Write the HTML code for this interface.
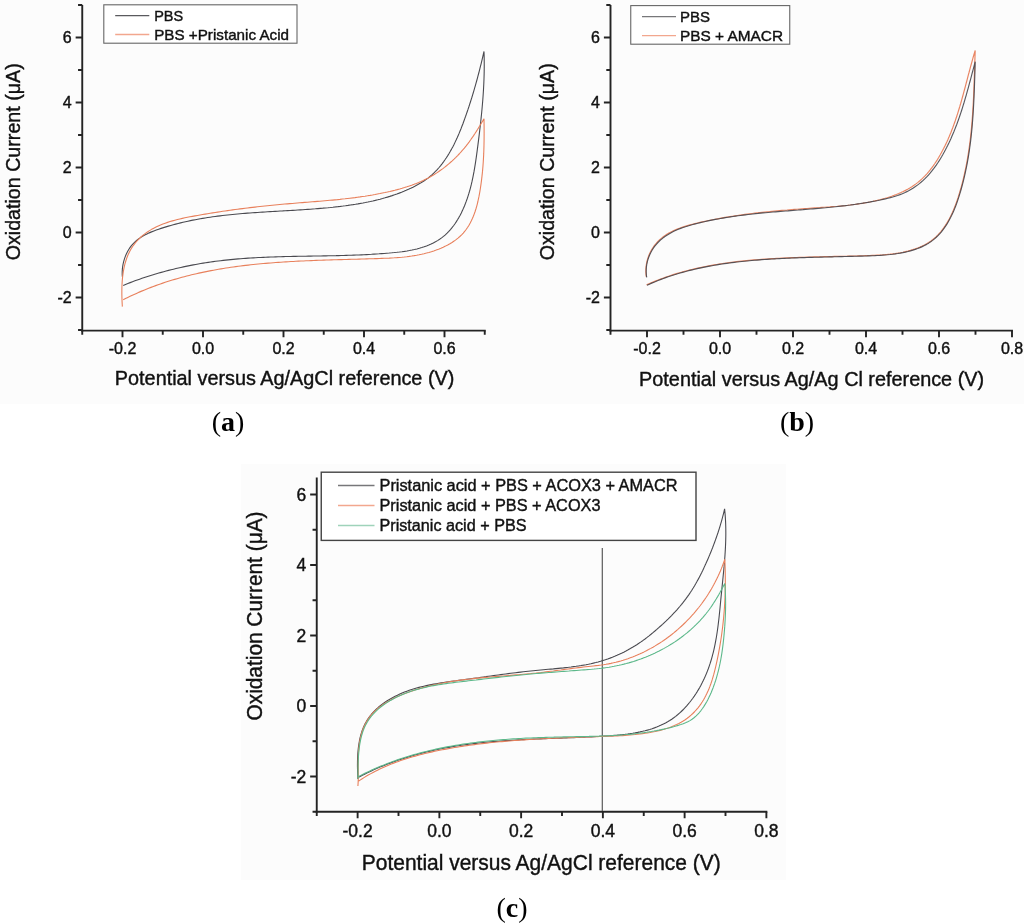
<!DOCTYPE html>
<html><head><meta charset="utf-8"><title>Cyclic voltammograms</title>
<style>
html,body{margin:0;padding:0;background:#fff}
svg{display:block}
svg text{font-family:"Liberation Sans",sans-serif;fill:#111;stroke:#111;stroke-width:0.4px}
svg text.sf{font-family:"Liberation Serif",serif;fill:#000;stroke:none}
</style></head><body>
<svg width="1024" height="923" viewBox="0 0 1024 923">
<rect width="1024" height="923" fill="#fff"/>
<rect width="1024" height="403.8" fill="#fcfcfc"/>
<rect x="241" y="464" width="545" height="416" fill="#fcfcfc"/>
<path d="M82.25,5.00 V331.55 H82.25" fill="none" stroke="#242424" stroke-width="1.90"/>
<path d="M81.30,330.60 H485.70" fill="none" stroke="#242424" stroke-width="1.90"/>
<path d="M122.50,330.60v6.60M203.00,330.60v6.60M283.50,330.60v6.60M364.00,330.60v6.60M444.50,330.60v6.60M82.25,330.60v4.20M162.75,330.60v4.20M243.25,330.60v4.20M323.75,330.60v4.20M404.25,330.60v4.20M484.75,330.60v4.20M82.25,297.50h-6.60M82.25,232.50h-6.60M82.25,167.50h-6.60M82.25,102.50h-6.60M82.25,37.50h-6.60M82.25,330.00h-4.20M82.25,265.00h-4.20M82.25,200.00h-4.20M82.25,135.00h-4.20M82.25,70.00h-4.20M82.25,5.00h-4.20" fill="none" stroke="#242424" stroke-width="1.90"/>
<text x="122.50" y="354.46" font-size="16.00" text-anchor="middle">-0.2</text>
<text x="203.00" y="354.46" font-size="16.00" text-anchor="middle">0.0</text>
<text x="283.50" y="354.46" font-size="16.00" text-anchor="middle">0.2</text>
<text x="364.00" y="354.46" font-size="16.00" text-anchor="middle">0.4</text>
<text x="444.50" y="354.46" font-size="16.00" text-anchor="middle">0.6</text>
<text x="71.75" y="303.23" font-size="16.00" text-anchor="end">-2</text>
<text x="71.75" y="238.23" font-size="16.00" text-anchor="end">0</text>
<text x="71.75" y="173.23" font-size="16.00" text-anchor="end">2</text>
<text x="71.75" y="108.23" font-size="16.00" text-anchor="end">4</text>
<text x="71.75" y="43.23" font-size="16.00" text-anchor="end">6</text>
<path d="M122.35,276.70 C122.35,276.70 122.35,276.70 122.35,276.70 L122.20,274.23 L122.20,271.71 L122.35,269.17 L122.65,266.62 L123.08,264.07 L123.66,261.55 L124.38,259.06 L125.23,256.61 L126.21,254.24 L127.33,251.94 L128.57,249.73 L129.94,247.63 L131.43,245.66 L133.04,243.82 L134.76,242.10 L136.58,240.49 L138.50,238.99 L140.50,237.59 L142.59,236.29 L144.74,235.08 L146.95,233.94 L149.22,232.87 L151.53,231.88 L153.89,230.93 L156.27,230.04 L158.68,229.20 L161.10,228.39 L163.52,227.61 L165.96,226.86 L168.39,226.13 L170.82,225.43 L173.26,224.75 L175.71,224.10 L178.15,223.47 L180.60,222.87 L183.05,222.28 L185.50,221.72 L187.96,221.18 L190.42,220.66 L192.88,220.16 L195.34,219.68 L197.80,219.22 L200.27,218.78 L202.74,218.35 L205.21,217.95 L207.69,217.56 L210.16,217.18 L212.64,216.82 L215.12,216.48 L217.61,216.15 L220.09,215.84 L222.58,215.54 L225.06,215.25 L227.55,214.97 L230.04,214.71 L232.54,214.46 L235.03,214.22 L237.53,213.99 L240.02,213.76 L242.52,213.55 L245.02,213.35 L247.52,213.15 L250.02,212.96 L252.53,212.78 L255.03,212.60 L257.54,212.43 L260.04,212.27 L262.55,212.11 L265.06,211.95 L267.57,211.80 L270.08,211.65 L272.59,211.50 L275.10,211.35 L277.61,211.21 L280.13,211.06 L282.64,210.92 L285.15,210.77 L287.67,210.63 L290.18,210.48 L292.70,210.33 L295.21,210.18 L297.72,210.02 L300.24,209.86 L302.76,209.70 L305.27,209.53 L307.79,209.36 L310.30,209.18 L312.82,208.99 L315.33,208.80 L317.84,208.59 L320.36,208.38 L322.87,208.17 L325.39,207.94 L327.90,207.70 L330.41,207.45 L332.92,207.19 L335.43,206.92 L337.94,206.64 L340.45,206.34 L342.96,206.03 L345.47,205.71 L347.97,205.37 L350.48,205.01 L352.98,204.64 L355.47,204.25 L357.97,203.84 L360.45,203.41 L362.94,202.96 L365.41,202.49 L367.89,202.00 L370.35,201.48 L372.81,200.94 L375.26,200.37 L377.70,199.78 L380.13,199.16 L382.56,198.51 L384.97,197.84 L387.38,197.13 L389.77,196.39 L392.15,195.63 L394.52,194.83 L396.88,193.99 L399.23,193.12 L401.56,192.22 L403.88,191.28 L406.18,190.30 L408.47,189.29 L410.74,188.24 L413.00,187.14 L415.24,186.01 L417.46,184.83 L419.65,183.60 L421.81,182.32 L423.92,180.97 L425.99,179.57 L428.01,178.09 L429.98,176.54 L431.87,174.92 L433.71,173.22 L435.48,171.45 L437.20,169.62 L438.86,167.74 L440.46,165.81 L442.01,163.85 L443.51,161.84 L444.97,159.80 L446.37,157.72 L447.73,155.61 L449.04,153.47 L450.32,151.30 L451.55,149.11 L452.74,146.89 L453.90,144.64 L455.02,142.37 L456.11,140.09 L457.17,137.78 L458.19,135.46 L459.19,133.13 L460.16,130.78 L461.11,128.42 L462.03,126.06 L462.94,123.69 L463.82,121.31 L464.68,118.93 L465.53,116.55 L466.37,114.17 L467.19,111.79 L467.99,109.42 L468.78,107.04 L469.56,104.66 L470.33,102.28 L471.08,99.90 L471.83,97.51 L472.56,95.13 L473.27,92.74 L473.98,90.35 L474.68,87.96 L475.36,85.56 L476.04,83.16 L476.70,80.75 L477.36,78.34 L478.00,75.93 L478.64,73.51 L479.27,71.08 L479.88,68.65 L480.49,66.21 L481.10,63.76 L481.69,61.30 L482.28,58.84 L482.86,56.37 L483.43,53.89 L484.00,51.40 C484.00,51.40 484.00,51.40 484.00,51.40 L484.08,53.96 L484.15,56.51 L484.20,59.06 L484.23,61.60 L484.24,64.14 L484.24,66.67 L484.22,69.20 L484.18,71.72 L484.13,74.24 L484.06,76.76 L483.98,79.27 L483.88,81.78 L483.77,84.28 L483.64,86.79 L483.51,89.29 L483.36,91.78 L483.19,94.28 L483.02,96.77 L482.84,99.26 L482.64,101.75 L482.43,104.24 L482.21,106.73 L481.99,109.22 L481.75,111.71 L481.51,114.19 L481.25,116.68 L480.99,119.17 L480.72,121.65 L480.45,124.14 L480.16,126.63 L479.87,129.12 L479.58,131.61 L479.28,134.11 L478.97,136.60 L478.66,139.10 L478.35,141.60 L478.03,144.10 L477.71,146.61 L477.38,149.11 L477.05,151.62 L476.72,154.14 L476.37,156.65 L476.01,159.16 L475.64,161.67 L475.26,164.18 L474.85,166.69 L474.43,169.20 L473.99,171.70 L473.52,174.20 L473.03,176.69 L472.52,179.18 L471.97,181.66 L471.39,184.13 L470.78,186.60 L470.13,189.05 L469.45,191.50 L468.73,193.93 L467.96,196.36 L467.16,198.77 L466.31,201.17 L465.41,203.56 L464.46,205.93 L463.46,208.28 L462.42,210.60 L461.31,212.89 L460.16,215.15 L458.95,217.36 L457.68,219.54 L456.36,221.66 L454.97,223.73 L453.53,225.75 L452.02,227.70 L450.45,229.59 L448.81,231.41 L447.11,233.15 L445.34,234.82 L443.50,236.40 L441.59,237.89 L439.61,239.29 L437.56,240.61 L435.46,241.84 L433.29,242.99 L431.08,244.05 L428.81,245.05 L426.50,245.96 L424.16,246.81 L421.77,247.59 L419.36,248.30 L416.92,248.94 L414.46,249.53 L411.98,250.06 L409.48,250.53 L406.98,250.96 L404.46,251.34 L401.93,251.69 L399.40,252.00 L396.86,252.28 L394.32,252.54 L391.77,252.79 L389.23,253.02 L386.69,253.23 L384.15,253.44 L381.61,253.63 L379.07,253.82 L376.53,253.99 L373.99,254.15 L371.46,254.31 L368.92,254.45 L366.39,254.58 L363.86,254.71 L361.32,254.83 L358.79,254.94 L356.26,255.04 L353.73,255.14 L351.20,255.23 L348.68,255.31 L346.15,255.39 L343.62,255.47 L341.10,255.53 L338.57,255.60 L336.05,255.66 L333.53,255.71 L331.00,255.76 L328.48,255.81 L325.96,255.86 L323.44,255.90 L320.92,255.95 L318.41,255.99 L315.89,256.03 L313.37,256.07 L310.86,256.11 L308.34,256.15 L305.83,256.19 L303.31,256.23 L300.80,256.27 L298.28,256.31 L295.77,256.36 L293.26,256.41 L290.75,256.46 L288.24,256.51 L285.73,256.57 L283.22,256.64 L280.71,256.70 L278.21,256.77 L275.70,256.85 L273.19,256.93 L270.69,257.02 L268.18,257.12 L265.67,257.22 L263.17,257.33 L260.67,257.45 L258.16,257.57 L255.66,257.71 L253.16,257.85 L250.66,258.00 L248.15,258.16 L245.65,258.33 L243.15,258.52 L240.65,258.71 L238.15,258.91 L235.65,259.13 L233.15,259.35 L230.65,259.59 L228.16,259.85 L225.66,260.11 L223.16,260.39 L220.66,260.68 L218.17,260.99 L215.67,261.31 L213.17,261.65 L210.68,262.00 L208.18,262.37 L205.69,262.75 L203.20,263.15 L200.71,263.57 L198.22,263.99 L195.73,264.44 L193.24,264.90 L190.76,265.38 L188.28,265.87 L185.80,266.38 L183.33,266.90 L180.86,267.44 L178.39,268.00 L175.93,268.57 L173.47,269.16 L171.01,269.77 L168.56,270.39 L166.12,271.03 L163.68,271.68 L161.24,272.35 L158.81,273.04 L156.39,273.74 L153.97,274.47 L151.56,275.20 L149.16,275.96 L146.76,276.73 L144.37,277.52 L141.98,278.33 L139.61,279.15 L137.24,279.99 L134.88,280.85 L132.52,281.72 L130.18,282.62 L127.84,283.53 L125.52,284.45 L123.20,285.40" fill="none" stroke="#4a4a50" stroke-width="1.10" stroke-linejoin="bevel" opacity="1"/>
<path d="M122.35,306.60 C122.35,306.60 122.35,306.60 122.35,306.60 L122.21,304.27 L122.09,301.89 L121.99,299.46 L121.91,297.00 L121.86,294.49 L121.85,291.96 L121.87,289.40 L121.93,286.82 L122.04,284.23 L122.19,281.63 L122.40,279.03 L122.67,276.43 L123.00,273.84 L123.39,271.27 L123.86,268.72 L124.39,266.19 L125.01,263.70 L125.71,261.24 L126.49,258.83 L127.37,256.46 L128.34,254.15 L129.41,251.90 L130.58,249.71 L131.86,247.60 L133.25,245.56 L134.73,243.59 L136.31,241.70 L137.98,239.88 L139.73,238.15 L141.55,236.48 L143.45,234.90 L145.41,233.39 L147.43,231.97 L149.51,230.62 L151.63,229.35 L153.79,228.15 L156.00,227.03 L158.25,225.97 L160.54,224.98 L162.86,224.05 L165.22,223.18 L167.60,222.36 L170.01,221.59 L172.44,220.87 L174.90,220.19 L177.37,219.55 L179.86,218.94 L182.37,218.37 L184.88,217.83 L187.41,217.31 L189.94,216.82 L192.47,216.34 L195.00,215.87 L197.53,215.42 L200.06,214.98 L202.58,214.54 L205.10,214.11 L207.62,213.69 L210.13,213.28 L212.64,212.88 L215.15,212.48 L217.65,212.09 L220.15,211.71 L222.65,211.33 L225.14,210.96 L227.63,210.60 L230.12,210.25 L232.61,209.90 L235.10,209.56 L237.59,209.23 L240.07,208.90 L242.55,208.58 L245.04,208.27 L247.52,207.96 L250.00,207.66 L252.48,207.37 L254.96,207.08 L257.44,206.80 L259.92,206.52 L262.40,206.25 L264.88,205.99 L267.37,205.73 L269.85,205.48 L272.33,205.23 L274.82,204.99 L277.31,204.75 L279.80,204.52 L282.29,204.29 L284.78,204.07 L287.27,203.85 L289.77,203.64 L292.27,203.43 L294.77,203.23 L297.27,203.02 L299.77,202.82 L302.28,202.62 L304.79,202.42 L307.29,202.22 L309.80,202.02 L312.31,201.82 L314.82,201.62 L317.33,201.41 L319.84,201.20 L322.35,200.99 L324.87,200.77 L327.38,200.55 L329.89,200.32 L332.40,200.09 L334.91,199.85 L337.43,199.60 L339.94,199.34 L342.45,199.07 L344.96,198.80 L347.46,198.51 L349.97,198.21 L352.48,197.91 L354.98,197.59 L357.49,197.25 L359.99,196.91 L362.49,196.54 L364.99,196.17 L367.49,195.78 L369.98,195.37 L372.47,194.95 L374.96,194.51 L377.45,194.05 L379.94,193.58 L382.42,193.08 L384.90,192.57 L387.37,192.03 L389.85,191.47 L392.31,190.89 L394.77,190.28 L397.22,189.65 L399.66,188.99 L402.09,188.29 L404.51,187.57 L406.91,186.81 L409.30,186.01 L411.67,185.18 L414.03,184.31 L416.37,183.39 L418.68,182.44 L420.98,181.44 L423.25,180.40 L425.50,179.31 L427.73,178.17 L429.92,176.98 L432.10,175.74 L434.24,174.46 L436.36,173.12 L438.44,171.74 L440.50,170.31 L442.53,168.84 L444.53,167.33 L446.50,165.77 L448.44,164.17 L450.34,162.53 L452.21,160.85 L454.05,159.13 L455.86,157.37 L457.63,155.58 L459.37,153.75 L461.07,151.88 L462.74,149.98 L464.37,148.05 L465.96,146.08 L467.52,144.09 L469.04,142.06 L470.53,140.01 L471.98,137.94 L473.41,135.84 L474.81,133.73 L476.19,131.61 L477.54,129.47 L478.87,127.32 L480.17,125.17 L481.47,123.01 L482.74,120.86 L484.00,118.70 C484.00,118.70 484.00,118.70 484.00,118.70 L484.04,121.30 L484.07,123.88 L484.10,126.44 L484.11,128.99 L484.12,131.53 L484.12,134.05 L484.11,136.56 L484.09,139.06 L484.06,141.55 L484.01,144.03 L483.95,146.50 L483.88,148.97 L483.80,151.44 L483.70,153.90 L483.58,156.36 L483.45,158.82 L483.30,161.28 L483.13,163.74 L482.95,166.21 L482.74,168.68 L482.52,171.15 L482.27,173.63 L482.00,176.12 L481.71,178.62 L481.40,181.13 L481.07,183.65 L480.71,186.18 L480.32,188.73 L479.91,191.29 L479.46,193.85 L478.98,196.41 L478.45,198.96 L477.89,201.50 L477.28,204.03 L476.61,206.53 L475.89,209.01 L475.11,211.46 L474.27,213.87 L473.36,216.24 L472.39,218.56 L471.34,220.83 L470.21,223.04 L469.00,225.19 L467.70,227.27 L466.31,229.28 L464.84,231.21 L463.26,233.05 L461.59,234.82 L459.84,236.50 L457.99,238.10 L456.07,239.62 L454.08,241.07 L452.02,242.44 L449.90,243.74 L447.72,244.97 L445.49,246.12 L443.21,247.21 L440.90,248.23 L438.54,249.19 L436.16,250.09 L433.76,250.93 L431.34,251.70 L428.90,252.42 L426.46,253.09 L424.01,253.70 L421.56,254.26 L419.10,254.77 L416.64,255.24 L414.17,255.66 L411.70,256.04 L409.22,256.39 L406.74,256.70 L404.26,256.98 L401.78,257.22 L399.29,257.44 L396.79,257.64 L394.30,257.81 L391.80,257.96 L389.30,258.09 L386.79,258.21 L384.29,258.32 L381.78,258.41 L379.27,258.50 L376.75,258.59 L374.24,258.67 L371.73,258.74 L369.21,258.82 L366.69,258.90 L364.17,258.97 L361.65,259.04 L359.13,259.11 L356.61,259.18 L354.09,259.25 L351.56,259.32 L349.04,259.39 L346.51,259.46 L343.99,259.53 L341.46,259.60 L338.93,259.67 L336.40,259.75 L333.88,259.82 L331.35,259.90 L328.82,259.98 L326.29,260.06 L323.76,260.14 L321.23,260.23 L318.70,260.32 L316.18,260.41 L313.65,260.51 L311.12,260.61 L308.59,260.71 L306.06,260.82 L303.54,260.93 L301.01,261.05 L298.49,261.17 L295.96,261.30 L293.44,261.43 L290.92,261.57 L288.39,261.72 L285.87,261.87 L283.35,262.03 L280.83,262.20 L278.32,262.37 L275.80,262.55 L273.29,262.74 L270.77,262.93 L268.26,263.13 L265.75,263.35 L263.24,263.57 L260.74,263.79 L258.23,264.03 L255.73,264.28 L253.23,264.54 L250.73,264.81 L248.23,265.08 L245.74,265.37 L243.25,265.67 L240.76,265.98 L238.27,266.30 L235.79,266.63 L233.30,266.97 L230.83,267.33 L228.35,267.69 L225.87,268.07 L223.40,268.47 L220.94,268.87 L218.47,269.29 L216.01,269.72 L213.55,270.17 L211.09,270.63 L208.64,271.10 L206.19,271.59 L203.75,272.09 L201.31,272.61 L198.87,273.14 L196.43,273.69 L194.00,274.25 L191.58,274.83 L189.15,275.43 L186.74,276.04 L184.32,276.67 L181.91,277.31 L179.50,277.98 L177.10,278.66 L174.70,279.36 L172.31,280.07 L169.92,280.81 L167.54,281.56 L165.16,282.33 L162.78,283.12 L160.41,283.93 L158.05,284.76 L155.69,285.61 L153.33,286.48 L150.98,287.37 L148.63,288.27 L146.29,289.20 L143.96,290.16 L141.63,291.13 L139.31,292.12 L136.99,293.14 L134.68,294.17 L132.37,295.23 L130.07,296.32 L127.77,297.42 L125.48,298.55 L123.20,299.70" fill="none" stroke="#e8805c" stroke-width="1.10" stroke-linejoin="bevel" opacity="1"/>
<rect x="103.80" y="4.80" width="193.20" height="38.40" fill="#fff" stroke="#666" stroke-width="1.10"/>
<path d="M115.20,15.60H149.30" stroke="#5a5a5e" stroke-width="1.3"/>
<text x="154.20" y="20.90" font-size="15.00" textLength="29.00" lengthAdjust="spacingAndGlyphs">PBS</text>
<path d="M115.20,34.50H149.30" stroke="#f2a78e" stroke-width="1.3"/>
<text x="154.20" y="39.80" font-size="15.00" textLength="134.80" lengthAdjust="spacingAndGlyphs">PBS +Pristanic Acid</text>
<text x="284.6" y="385" font-size="19.7" text-anchor="middle" textLength="339.5" lengthAdjust="spacingAndGlyphs">Potential versus Ag/AgCl reference (V)</text>
<text transform="translate(19.5,161.8) rotate(-90)" font-size="19.7" text-anchor="middle" textLength="197" lengthAdjust="spacingAndGlyphs">Oxidation Current (μA)</text>
<text x="228" y="430.9" font-size="28" text-anchor="middle" class="sf">(<tspan font-weight="bold">a</tspan>)</text>
<path d="M610.50,5.00 V331.55 H610.50" fill="none" stroke="#242424" stroke-width="1.90"/>
<path d="M609.55,330.60 H1012.95" fill="none" stroke="#242424" stroke-width="1.90"/>
<path d="M647.00,330.60v6.60M720.00,330.60v6.60M793.00,330.60v6.60M866.00,330.60v6.60M939.00,330.60v6.60M1012.00,330.60v6.60M610.50,330.60v4.20M683.50,330.60v4.20M756.50,330.60v4.20M829.50,330.60v4.20M902.50,330.60v4.20M975.50,330.60v4.20M610.50,297.50h-6.60M610.50,232.50h-6.60M610.50,167.50h-6.60M610.50,102.50h-6.60M610.50,37.50h-6.60M610.50,330.00h-4.20M610.50,265.00h-4.20M610.50,200.00h-4.20M610.50,135.00h-4.20M610.50,70.00h-4.20M610.50,5.00h-4.20" fill="none" stroke="#242424" stroke-width="1.90"/>
<text x="647.00" y="354.46" font-size="16.00" text-anchor="middle">-0.2</text>
<text x="720.00" y="354.46" font-size="16.00" text-anchor="middle">0.0</text>
<text x="793.00" y="354.46" font-size="16.00" text-anchor="middle">0.2</text>
<text x="866.00" y="354.46" font-size="16.00" text-anchor="middle">0.4</text>
<text x="939.00" y="354.46" font-size="16.00" text-anchor="middle">0.6</text>
<text x="1012.00" y="354.46" font-size="16.00" text-anchor="middle">0.8</text>
<text x="600.00" y="303.23" font-size="16.00" text-anchor="end">-2</text>
<text x="600.00" y="238.23" font-size="16.00" text-anchor="end">0</text>
<text x="600.00" y="173.23" font-size="16.00" text-anchor="end">2</text>
<text x="600.00" y="108.23" font-size="16.00" text-anchor="end">4</text>
<text x="600.00" y="43.23" font-size="16.00" text-anchor="end">6</text>
<path d="M646.35,276.95 C646.35,276.95 646.35,276.95 646.35,276.95 L646.02,274.34 L645.86,271.73 L645.89,269.14 L646.08,266.57 L646.43,264.03 L646.94,261.53 L647.60,259.08 L648.40,256.67 L649.34,254.33 L650.41,252.05 L651.60,249.85 L652.90,247.73 L654.32,245.71 L655.84,243.78 L657.46,241.95 L659.17,240.23 L660.96,238.62 L662.84,237.10 L664.79,235.68 L666.82,234.35 L668.91,233.11 L671.07,231.94 L673.28,230.85 L675.54,229.83 L677.85,228.87 L680.20,227.97 L682.59,227.13 L685.01,226.35 L687.46,225.60 L689.94,224.90 L692.43,224.24 L694.93,223.61 L697.44,223.00 L699.96,222.42 L702.47,221.86 L704.98,221.31 L707.49,220.77 L710.00,220.26 L712.50,219.76 L715.00,219.27 L717.50,218.80 L720.00,218.34 L722.49,217.89 L724.98,217.46 L727.47,217.04 L729.96,216.64 L732.45,216.24 L734.94,215.86 L737.42,215.49 L739.91,215.13 L742.39,214.79 L744.87,214.45 L747.36,214.12 L749.84,213.81 L752.32,213.50 L754.80,213.20 L757.28,212.92 L759.76,212.64 L762.24,212.36 L764.72,212.10 L767.20,211.84 L769.68,211.60 L772.16,211.35 L774.64,211.12 L777.12,210.89 L779.61,210.67 L782.09,210.45 L784.57,210.23 L787.06,210.03 L789.55,209.82 L792.04,209.62 L794.53,209.43 L797.02,209.24 L799.52,209.05 L802.01,208.86 L804.51,208.68 L807.01,208.50 L809.51,208.32 L812.02,208.14 L814.53,207.96 L817.04,207.78 L819.55,207.61 L822.07,207.43 L824.58,207.25 L827.10,207.07 L829.62,206.88 L832.14,206.68 L834.67,206.48 L837.19,206.27 L839.71,206.04 L842.23,205.80 L844.74,205.55 L847.26,205.29 L849.78,205.01 L852.29,204.71 L854.79,204.38 L857.30,204.04 L859.80,203.68 L862.29,203.29 L864.79,202.88 L867.27,202.44 L869.75,201.97 L872.22,201.47 L874.69,200.94 L877.15,200.38 L879.60,199.78 L882.05,199.15 L884.48,198.48 L886.90,197.77 L889.30,197.02 L891.69,196.22 L894.05,195.38 L896.40,194.48 L898.71,193.54 L901.00,192.54 L903.25,191.49 L905.47,190.38 L907.65,189.21 L909.80,187.98 L911.90,186.68 L913.95,185.31 L915.96,183.88 L917.92,182.37 L919.83,180.79 L921.68,179.14 L923.48,177.42 L925.23,175.63 L926.92,173.78 L928.57,171.87 L930.17,169.91 L931.72,167.91 L933.23,165.85 L934.69,163.76 L936.10,161.63 L937.48,159.46 L938.81,157.27 L940.10,155.05 L941.35,152.81 L942.56,150.56 L943.73,148.29 L944.87,146.02 L945.97,143.73 L947.04,141.44 L948.08,139.13 L949.09,136.82 L950.06,134.50 L951.01,132.17 L951.93,129.84 L952.82,127.50 L953.69,125.15 L954.54,122.79 L955.36,120.43 L956.16,118.06 L956.94,115.69 L957.71,113.31 L958.45,110.92 L959.18,108.53 L959.90,106.14 L960.60,103.74 L961.29,101.33 L961.97,98.93 L962.64,96.52 L963.30,94.10 L963.95,91.68 L964.60,89.26 L965.24,86.84 L965.88,84.42 L966.52,81.99 L967.16,79.56 L967.80,77.13 L968.43,74.70 L969.08,72.27 L969.72,69.84 L970.37,67.41 L971.03,64.98 L971.70,62.54 L972.38,60.11 L973.06,57.68 L973.76,55.25 L974.47,52.83 L975.20,50.40 C975.20,50.40 975.20,50.40 975.20,50.40 L975.11,52.96 L975.02,55.51 L974.94,58.06 L974.86,60.60 L974.78,63.14 L974.70,65.68 L974.62,68.22 L974.54,70.75 L974.46,73.28 L974.38,75.80 L974.29,78.33 L974.21,80.85 L974.12,83.36 L974.03,85.88 L973.93,88.39 L973.83,90.90 L973.73,93.41 L973.62,95.91 L973.51,98.42 L973.38,100.92 L973.26,103.42 L973.12,105.92 L972.97,108.41 L972.82,110.90 L972.66,113.40 L972.49,115.89 L972.31,118.37 L972.12,120.86 L971.91,123.35 L971.70,125.83 L971.47,128.32 L971.23,130.80 L970.98,133.28 L970.71,135.76 L970.43,138.24 L970.14,140.72 L969.83,143.20 L969.50,145.67 L969.16,148.15 L968.80,150.63 L968.42,153.10 L968.03,155.58 L967.61,158.06 L967.18,160.53 L966.73,163.01 L966.26,165.48 L965.76,167.96 L965.25,170.44 L964.71,172.91 L964.16,175.39 L963.58,177.87 L962.97,180.35 L962.35,182.83 L961.70,185.31 L961.02,187.79 L960.32,190.27 L959.59,192.75 L958.84,195.23 L958.05,197.70 L957.23,200.16 L956.38,202.60 L955.49,205.03 L954.56,207.43 L953.59,209.81 L952.57,212.15 L951.51,214.47 L950.40,216.74 L949.25,218.98 L948.04,221.16 L946.77,223.31 L945.45,225.39 L944.07,227.42 L942.64,229.39 L941.13,231.30 L939.57,233.14 L937.93,234.91 L936.23,236.60 L934.45,238.21 L932.60,239.74 L930.68,241.19 L928.67,242.54 L926.60,243.81 L924.45,244.99 L922.24,246.08 L919.97,247.10 L917.65,248.03 L915.27,248.90 L912.86,249.69 L910.41,250.42 L907.92,251.08 L905.41,251.69 L902.88,252.23 L900.33,252.72 L897.77,253.15 L895.21,253.54 L892.64,253.88 L890.08,254.18 L887.52,254.44 L884.97,254.67 L882.42,254.86 L879.87,255.03 L877.33,255.17 L874.79,255.30 L872.26,255.40 L869.72,255.50 L867.19,255.59 L864.66,255.68 L862.13,255.76 L859.60,255.83 L857.08,255.91 L854.55,255.98 L852.03,256.05 L849.50,256.11 L846.98,256.18 L844.46,256.24 L841.95,256.30 L839.43,256.36 L836.91,256.42 L834.40,256.47 L831.88,256.53 L829.37,256.59 L826.86,256.65 L824.34,256.71 L821.83,256.77 L819.32,256.83 L816.81,256.89 L814.31,256.96 L811.80,257.03 L809.29,257.10 L806.78,257.17 L804.27,257.25 L801.77,257.33 L799.26,257.41 L796.76,257.50 L794.25,257.59 L791.74,257.69 L789.24,257.79 L786.73,257.90 L784.23,258.02 L781.72,258.14 L779.22,258.26 L776.71,258.40 L774.20,258.54 L771.70,258.69 L769.19,258.84 L766.68,259.01 L764.18,259.18 L761.67,259.36 L759.16,259.55 L756.65,259.75 L754.14,259.96 L751.63,260.18 L749.12,260.41 L746.61,260.65 L744.10,260.90 L741.59,261.16 L739.08,261.44 L736.57,261.72 L734.07,262.02 L731.56,262.34 L729.06,262.66 L726.55,263.01 L724.05,263.36 L721.56,263.73 L719.06,264.12 L716.57,264.52 L714.08,264.94 L711.59,265.37 L709.11,265.83 L706.63,266.30 L704.16,266.78 L701.69,267.29 L699.22,267.81 L696.76,268.36 L694.31,268.92 L691.86,269.50 L689.41,270.10 L686.97,270.73 L684.54,271.37 L682.11,272.04 L679.69,272.73 L677.27,273.44 L674.87,274.17 L672.47,274.93 L670.07,275.71 L667.69,276.51 L665.31,277.34 L662.94,278.19 L660.58,279.07 L658.23,279.98 L655.88,280.91 L653.55,281.87 L651.22,282.85 L648.91,283.86 L646.60,284.90" fill="none" stroke="#e8805c" stroke-width="1.20" stroke-linejoin="bevel" opacity="0.95"/>
<path d="M646.70,277.40 C646.70,277.40 646.70,277.40 646.70,277.40 L646.35,274.71 L646.20,272.04 L646.22,269.41 L646.41,266.83 L646.78,264.28 L647.30,261.79 L647.97,259.35 L648.79,256.97 L649.74,254.66 L650.82,252.42 L652.03,250.26 L653.36,248.18 L654.79,246.19 L656.32,244.29 L657.95,242.49 L659.66,240.79 L661.46,239.18 L663.34,237.67 L665.29,236.25 L667.32,234.91 L669.40,233.65 L671.55,232.46 L673.75,231.35 L676.01,230.30 L678.31,229.31 L680.65,228.39 L683.03,227.52 L685.45,226.70 L687.89,225.93 L690.35,225.20 L692.83,224.50 L695.33,223.84 L697.84,223.21 L700.35,222.61 L702.86,222.03 L705.37,221.47 L707.89,220.93 L710.40,220.41 L712.91,219.90 L715.42,219.42 L717.93,218.95 L720.44,218.50 L722.94,218.07 L725.45,217.65 L727.96,217.25 L730.47,216.86 L732.98,216.49 L735.48,216.13 L737.99,215.79 L740.49,215.46 L743.00,215.14 L745.51,214.83 L748.01,214.53 L750.51,214.24 L753.02,213.96 L755.52,213.69 L758.03,213.44 L760.53,213.18 L763.03,212.94 L765.53,212.70 L768.04,212.47 L770.54,212.25 L773.04,212.03 L775.54,211.82 L778.04,211.61 L780.54,211.40 L783.04,211.20 L785.54,211.00 L788.04,210.81 L790.54,210.61 L793.04,210.42 L795.54,210.22 L798.04,210.03 L800.54,209.83 L803.03,209.64 L805.53,209.44 L808.03,209.24 L810.53,209.04 L813.03,208.83 L815.52,208.62 L818.02,208.41 L820.52,208.19 L823.01,207.96 L825.51,207.73 L828.01,207.49 L830.50,207.25 L833.00,206.99 L835.49,206.73 L837.99,206.46 L840.49,206.18 L842.98,205.89 L845.48,205.59 L847.97,205.28 L850.47,204.95 L852.96,204.62 L855.46,204.27 L857.95,203.90 L860.45,203.53 L862.94,203.14 L865.44,202.73 L867.93,202.31 L870.43,201.87 L872.92,201.42 L875.41,200.95 L877.91,200.46 L880.40,199.95 L882.90,199.42 L885.39,198.87 L887.86,198.28 L890.33,197.65 L892.78,196.98 L895.20,196.26 L897.60,195.47 L899.97,194.63 L902.30,193.71 L904.59,192.71 L906.84,191.64 L909.05,190.49 L911.21,189.26 L913.32,187.96 L915.39,186.58 L917.41,185.13 L919.38,183.62 L921.30,182.03 L923.16,180.38 L924.97,178.66 L926.72,176.88 L928.43,175.04 L930.09,173.15 L931.70,171.21 L933.26,169.22 L934.78,167.19 L936.25,165.12 L937.68,163.01 L939.07,160.87 L940.42,158.70 L941.73,156.50 L943.01,154.28 L944.25,152.05 L945.45,149.80 L946.62,147.54 L947.76,145.27 L948.87,142.98 L949.94,140.69 L950.99,138.40 L952.01,136.09 L953.00,133.77 L953.97,131.45 L954.91,129.12 L955.83,126.78 L956.73,124.43 L957.60,122.08 L958.45,119.71 L959.28,117.35 L960.09,114.97 L960.89,112.59 L961.67,110.21 L962.43,107.82 L963.17,105.42 L963.91,103.02 L964.63,100.62 L965.33,98.21 L966.03,95.79 L966.72,93.37 L967.39,90.95 L968.06,88.53 L968.73,86.10 L969.38,83.67 L970.04,81.23 L970.69,78.80 L971.33,76.36 L971.97,73.92 L972.62,71.48 L973.26,69.03 L973.90,66.59 L974.55,64.15 L975.20,61.70 C975.20,61.70 975.20,61.70 975.20,61.70 L975.12,64.25 L975.05,66.80 L974.97,69.35 L974.90,71.89 L974.82,74.42 L974.75,76.95 L974.67,79.48 L974.58,82.01 L974.50,84.53 L974.41,87.05 L974.32,89.56 L974.22,92.07 L974.12,94.58 L974.01,97.09 L973.89,99.59 L973.77,102.09 L973.64,104.59 L973.51,107.08 L973.36,109.58 L973.21,112.07 L973.05,114.55 L972.88,117.04 L972.69,119.52 L972.50,122.01 L972.30,124.49 L972.08,126.96 L971.85,129.44 L971.61,131.92 L971.35,134.39 L971.08,136.87 L970.80,139.34 L970.50,141.81 L970.19,144.28 L969.86,146.75 L969.51,149.22 L969.15,151.69 L968.77,154.16 L968.37,156.63 L967.95,159.09 L967.51,161.56 L967.05,164.03 L966.58,166.50 L966.08,168.97 L965.56,171.44 L965.02,173.91 L964.46,176.38 L963.87,178.85 L963.26,181.32 L962.63,183.79 L961.97,186.27 L961.29,188.74 L960.58,191.22 L959.85,193.69 L959.08,196.16 L958.29,198.63 L957.46,201.08 L956.60,203.51 L955.70,205.93 L954.76,208.32 L953.78,210.69 L952.75,213.03 L951.68,215.33 L950.56,217.59 L949.40,219.81 L948.17,221.99 L946.90,224.11 L945.57,226.18 L944.18,228.20 L942.72,230.15 L941.21,232.04 L939.63,233.86 L937.98,235.61 L936.27,237.28 L934.48,238.88 L932.62,240.39 L930.68,241.81 L928.67,243.14 L926.58,244.38 L924.43,245.54 L922.21,246.61 L919.94,247.61 L917.61,248.53 L915.23,249.38 L912.82,250.15 L910.37,250.87 L907.88,251.51 L905.38,252.10 L902.85,252.63 L900.30,253.11 L897.74,253.53 L895.18,253.91 L892.62,254.24 L890.07,254.53 L887.51,254.78 L884.96,255.00 L882.42,255.19 L879.88,255.35 L877.34,255.49 L874.80,255.62 L872.27,255.72 L869.73,255.82 L867.20,255.91 L864.67,255.99 L862.15,256.07 L859.62,256.15 L857.10,256.22 L854.58,256.29 L852.06,256.36 L849.54,256.43 L847.02,256.49 L844.51,256.55 L842.00,256.61 L839.48,256.67 L836.97,256.73 L834.46,256.79 L831.95,256.84 L829.44,256.90 L826.94,256.96 L824.43,257.02 L821.92,257.08 L819.42,257.14 L816.91,257.20 L814.41,257.27 L811.91,257.34 L809.41,257.41 L806.91,257.48 L804.40,257.56 L801.90,257.64 L799.40,257.72 L796.90,257.81 L794.40,257.90 L791.90,258.00 L789.40,258.10 L786.90,258.21 L784.40,258.33 L781.90,258.45 L779.40,258.58 L776.90,258.71 L774.40,258.85 L771.90,259.00 L769.40,259.16 L766.90,259.32 L764.40,259.49 L761.90,259.67 L759.39,259.86 L756.89,260.06 L754.39,260.27 L751.88,260.49 L749.38,260.72 L746.87,260.96 L744.36,261.21 L741.86,261.48 L739.36,261.75 L736.85,262.04 L734.35,262.34 L731.85,262.66 L729.35,262.98 L726.85,263.33 L724.36,263.68 L721.86,264.05 L719.37,264.44 L716.88,264.84 L714.40,265.26 L711.92,265.70 L709.44,266.15 L706.97,266.62 L704.50,267.11 L702.03,267.61 L699.57,268.13 L697.11,268.68 L694.66,269.24 L692.21,269.82 L689.77,270.43 L687.34,271.05 L684.91,271.69 L682.49,272.36 L680.07,273.05 L677.66,273.76 L675.26,274.49 L672.86,275.24 L670.47,276.02 L668.09,276.83 L665.72,277.65 L663.35,278.51 L661.00,279.38 L658.65,280.29 L656.31,281.22 L653.98,282.17 L651.66,283.15 L649.35,284.16 L647.05,285.20" fill="none" stroke="#4a4a50" stroke-width="1.15" stroke-linejoin="bevel" opacity="0.92"/>
<rect x="630.75" y="5.60" width="159.00" height="38.60" fill="#fff" stroke="#666" stroke-width="1.10"/>
<path d="M642.00,16.60H676.00" stroke="#77777a" stroke-width="1.3"/>
<text x="680.00" y="21.50" font-size="15.00" textLength="30.00" lengthAdjust="spacingAndGlyphs">PBS</text>
<path d="M642.00,35.70H676.00" stroke="#f2a78e" stroke-width="1.3"/>
<text x="680.00" y="40.60" font-size="15.00" textLength="103.00" lengthAdjust="spacingAndGlyphs">PBS + AMACR</text>
<text x="811.6" y="385.6" font-size="19.7" text-anchor="middle" textLength="345" lengthAdjust="spacingAndGlyphs">Potential versus Ag/Ag Cl reference (V)</text>
<text transform="translate(553.8,161.8) rotate(-90)" font-size="19.7" text-anchor="middle" textLength="197" lengthAdjust="spacingAndGlyphs">Oxidation Current (μA)</text>
<text x="797" y="430.9" font-size="28" text-anchor="middle" class="sf">(<tspan font-weight="bold">b</tspan>)</text>
<path d="M316.75,477.50 V812.70 H316.75" fill="none" stroke="#242424" stroke-width="1.90"/>
<path d="M315.80,811.75 H767.33" fill="none" stroke="#242424" stroke-width="1.90"/>
<path d="M357.62,811.75v6.60M439.38,811.75v6.60M521.12,811.75v6.60M602.88,811.75v6.60M684.62,811.75v6.60M766.38,811.75v6.60M316.75,811.75v4.20M398.50,811.75v4.20M480.25,811.75v4.20M562.00,811.75v4.20M643.75,811.75v4.20M725.50,811.75v4.20M316.75,776.50h-6.60M316.75,706.00h-6.60M316.75,635.50h-6.60M316.75,565.00h-6.60M316.75,494.50h-6.60M316.75,811.75h-4.20M316.75,741.25h-4.20M316.75,670.75h-4.20M316.75,600.25h-4.20M316.75,529.75h-4.20" fill="none" stroke="#242424" stroke-width="1.90"/>
<text x="357.62" y="837.28" font-size="17.50" text-anchor="middle">-0.2</text>
<text x="439.38" y="837.28" font-size="17.50" text-anchor="middle">0.0</text>
<text x="521.12" y="837.28" font-size="17.50" text-anchor="middle">0.2</text>
<text x="602.88" y="837.28" font-size="17.50" text-anchor="middle">0.4</text>
<text x="684.62" y="837.28" font-size="17.50" text-anchor="middle">0.6</text>
<text x="766.38" y="837.28" font-size="17.50" text-anchor="middle">0.8</text>
<text x="306.25" y="782.76" font-size="17.50" text-anchor="end">-2</text>
<text x="306.25" y="712.26" font-size="17.50" text-anchor="end">0</text>
<text x="306.25" y="641.76" font-size="17.50" text-anchor="end">2</text>
<text x="306.25" y="571.26" font-size="17.50" text-anchor="end">4</text>
<text x="306.25" y="500.76" font-size="17.50" text-anchor="end">6</text>
<path d="M602.3,548V811" stroke="#5a5a5a" stroke-width="1.2"/>
<path d="M357.90,779.00 C357.90,779.00 357.90,779.00 357.90,779.00 L357.78,776.62 L357.67,774.20 L357.58,771.73 L357.52,769.23 L357.47,766.70 L357.46,764.15 L357.49,761.58 L357.55,759.00 L357.65,756.41 L357.80,753.81 L358.00,751.22 L358.26,748.64 L358.58,746.07 L358.96,743.51 L359.41,740.98 L359.93,738.48 L360.53,736.01 L361.21,733.58 L361.97,731.20 L362.82,728.86 L363.77,726.58 L364.81,724.36 L365.96,722.20 L367.20,720.11 L368.55,718.09 L369.98,716.13 L371.50,714.23 L373.11,712.40 L374.80,710.63 L376.56,708.93 L378.40,707.29 L380.30,705.70 L382.27,704.18 L384.29,702.72 L386.37,701.31 L388.50,699.97 L390.68,698.68 L392.90,697.45 L395.16,696.27 L397.45,695.15 L399.77,694.08 L402.12,693.07 L404.49,692.11 L406.87,691.20 L409.27,690.35 L411.68,689.54 L414.11,688.78 L416.54,688.07 L418.98,687.40 L421.42,686.77 L423.88,686.17 L426.34,685.62 L428.81,685.09 L431.28,684.60 L433.76,684.13 L436.24,683.68 L438.73,683.26 L441.22,682.86 L443.71,682.48 L446.21,682.11 L448.70,681.75 L451.20,681.41 L453.69,681.07 L456.19,680.74 L458.68,680.40 L461.17,680.07 L463.66,679.74 L466.14,679.40 L468.63,679.06 L471.11,678.72 L473.59,678.38 L476.07,678.03 L478.54,677.69 L481.02,677.34 L483.49,677.00 L485.97,676.66 L488.44,676.31 L490.91,675.97 L493.39,675.63 L495.86,675.29 L498.33,674.95 L500.81,674.62 L503.28,674.29 L505.76,673.96 L508.24,673.64 L510.72,673.32 L513.20,673.01 L515.69,672.70 L518.18,672.40 L520.67,672.11 L523.16,671.82 L525.66,671.53 L528.16,671.26 L530.66,670.99 L533.17,670.73 L535.68,670.48 L538.20,670.24 L540.72,670.00 L543.24,669.77 L545.77,669.54 L548.30,669.32 L550.83,669.09 L553.36,668.86 L555.89,668.62 L558.41,668.38 L560.94,668.13 L563.47,667.87 L565.99,667.59 L568.50,667.30 L571.02,666.99 L573.52,666.66 L576.02,666.32 L578.52,665.94 L581.01,665.55 L583.49,665.13 L585.96,664.67 L588.42,664.19 L590.87,663.67 L593.31,663.12 L595.74,662.53 L598.15,661.91 L600.56,661.24 L602.95,660.52 L605.32,659.77 L607.68,658.97 L610.03,658.12 L612.36,657.24 L614.67,656.30 L616.97,655.33 L619.25,654.31 L621.51,653.25 L623.75,652.15 L625.97,651.01 L628.18,649.83 L630.36,648.60 L632.52,647.34 L634.66,646.04 L636.79,644.69 L638.88,643.31 L640.96,641.89 L643.01,640.43 L645.05,638.94 L647.06,637.41 L649.05,635.85 L651.02,634.27 L652.98,632.66 L654.91,631.03 L656.83,629.38 L658.74,627.71 L660.63,626.02 L662.50,624.32 L664.35,622.59 L666.19,620.86 L668.00,619.10 L669.79,617.32 L671.56,615.53 L673.30,613.72 L675.02,611.88 L676.71,610.03 L678.37,608.15 L680.00,606.25 L681.60,604.33 L683.17,602.38 L684.70,600.41 L686.20,598.42 L687.66,596.40 L689.09,594.36 L690.49,592.29 L691.85,590.19 L693.17,588.07 L694.46,585.93 L695.72,583.77 L696.95,581.58 L698.16,579.38 L699.33,577.16 L700.48,574.93 L701.61,572.68 L702.71,570.42 L703.79,568.14 L704.86,565.85 L705.90,563.55 L706.93,561.25 L707.94,558.94 L708.94,556.61 L709.91,554.29 L710.87,551.95 L711.82,549.61 L712.74,547.26 L713.64,544.91 L714.53,542.54 L715.39,540.18 L716.24,537.80 L717.06,535.42 L717.87,533.04 L718.65,530.64 L719.40,528.25 L720.14,525.85 L720.85,523.44 L721.54,521.03 L722.20,518.61 L722.84,516.19 L723.45,513.76 L724.04,511.33 L724.60,508.90 C724.60,508.90 724.60,508.90 724.60,508.90 L724.86,511.46 L725.09,514.01 L725.28,516.56 L725.45,519.10 L725.58,521.64 L725.68,524.18 L725.75,526.71 L725.80,529.24 L725.82,531.76 L725.82,534.28 L725.79,536.80 L725.74,539.32 L725.67,541.83 L725.58,544.34 L725.47,546.85 L725.34,549.36 L725.19,551.87 L725.03,554.37 L724.86,556.87 L724.67,559.38 L724.47,561.88 L724.26,564.38 L724.04,566.88 L723.81,569.38 L723.57,571.87 L723.33,574.37 L723.08,576.87 L722.83,579.37 L722.58,581.87 L722.33,584.37 L722.07,586.88 L721.82,589.38 L721.57,591.88 L721.32,594.39 L721.07,596.90 L720.83,599.41 L720.59,601.92 L720.35,604.43 L720.11,606.94 L719.87,609.45 L719.61,611.96 L719.35,614.48 L719.09,616.98 L718.81,619.49 L718.51,622.00 L718.21,624.50 L717.89,627.00 L717.55,629.50 L717.19,631.99 L716.81,634.48 L716.41,636.97 L715.98,639.45 L715.52,641.93 L715.04,644.40 L714.53,646.87 L713.99,649.33 L713.41,651.78 L712.80,654.22 L712.15,656.66 L711.46,659.09 L710.73,661.52 L709.97,663.93 L709.15,666.34 L708.30,668.74 L707.39,671.12 L706.44,673.50 L705.44,675.87 L704.39,678.21 L703.29,680.55 L702.14,682.85 L700.95,685.14 L699.71,687.40 L698.43,689.63 L697.10,691.83 L695.72,694.00 L694.29,696.13 L692.83,698.21 L691.31,700.26 L689.75,702.26 L688.15,704.21 L686.50,706.12 L684.81,707.97 L683.07,709.76 L681.29,711.50 L679.47,713.17 L677.60,714.78 L675.70,716.33 L673.74,717.80 L671.75,719.20 L669.72,720.53 L667.64,721.78 L665.53,722.97 L663.37,724.08 L661.18,725.12 L658.96,726.10 L656.70,727.02 L654.42,727.87 L652.10,728.67 L649.75,729.41 L647.38,730.10 L644.98,730.74 L642.56,731.33 L640.12,731.88 L637.66,732.38 L635.17,732.85 L632.68,733.27 L630.16,733.66 L627.63,734.01 L625.09,734.34 L622.54,734.63 L619.98,734.90 L617.41,735.15 L614.84,735.37 L612.26,735.58 L609.68,735.77 L607.10,735.95 L604.52,736.11 L601.94,736.27 L599.36,736.42 L596.79,736.56 L594.22,736.69 L591.65,736.83 L589.09,736.95 L586.52,737.07 L583.97,737.19 L581.41,737.30 L578.86,737.41 L576.31,737.52 L573.77,737.62 L571.22,737.72 L568.68,737.82 L566.15,737.91 L563.61,738.01 L561.08,738.10 L558.55,738.19 L556.02,738.29 L553.50,738.38 L550.97,738.47 L548.45,738.57 L545.93,738.66 L543.42,738.76 L540.90,738.86 L538.39,738.96 L535.88,739.06 L533.37,739.17 L530.86,739.28 L528.36,739.39 L525.85,739.51 L523.35,739.64 L520.85,739.76 L518.35,739.90 L515.86,740.04 L513.36,740.18 L510.86,740.33 L508.37,740.49 L505.88,740.66 L503.39,740.83 L500.90,741.01 L498.41,741.20 L495.92,741.40 L493.43,741.61 L490.94,741.83 L488.46,742.06 L485.97,742.29 L483.49,742.54 L481.00,742.80 L478.52,743.07 L476.04,743.35 L473.56,743.65 L471.07,743.96 L468.59,744.28 L466.11,744.61 L463.63,744.96 L461.15,745.32 L458.67,745.69 L456.18,746.08 L453.70,746.49 L451.22,746.91 L448.74,747.35 L446.26,747.80 L443.77,748.27 L441.29,748.76 L438.81,749.26 L436.33,749.78 L433.85,750.32 L431.37,750.88 L428.90,751.45 L426.43,752.04 L423.96,752.65 L421.49,753.28 L419.03,753.92 L416.57,754.59 L414.12,755.27 L411.68,755.97 L409.24,756.69 L406.81,757.43 L404.38,758.19 L401.96,758.96 L399.55,759.76 L397.15,760.58 L394.75,761.41 L392.37,762.27 L389.99,763.14 L387.63,764.04 L385.27,764.96 L382.93,765.89 L380.60,766.85 L378.28,767.83 L375.97,768.83 L373.67,769.85 L371.39,770.89 L369.12,771.96 L366.87,773.04 L364.63,774.15 L362.40,775.28 L360.19,776.43 L358.00,777.60" fill="none" stroke="#4a4a50" stroke-width="1.10" stroke-linejoin="bevel" opacity="1"/>
<path d="M357.90,786.00 C357.90,786.00 357.90,786.00 357.90,786.00 L358.08,783.53 L358.19,781.07 L358.27,778.60 L358.30,776.12 L358.30,773.64 L358.29,771.16 L358.26,768.66 L358.23,766.16 L358.22,763.64 L358.22,761.11 L358.24,758.57 L358.31,756.01 L358.42,753.44 L358.58,750.84 L358.81,748.24 L359.11,745.62 L359.48,743.01 L359.92,740.41 L360.45,737.84 L361.06,735.30 L361.75,732.79 L362.55,730.35 L363.44,727.96 L364.43,725.64 L365.53,723.40 L366.74,721.25 L368.05,719.19 L369.46,717.21 L370.97,715.30 L372.56,713.48 L374.25,711.73 L376.01,710.05 L377.85,708.45 L379.76,706.91 L381.74,705.44 L383.78,704.03 L385.88,702.68 L388.03,701.40 L390.23,700.16 L392.47,698.98 L394.75,697.85 L397.06,696.77 L399.40,695.74 L401.76,694.75 L404.15,693.80 L406.54,692.89 L408.95,692.01 L411.37,691.17 L413.78,690.37 L416.21,689.59 L418.64,688.85 L421.07,688.14 L423.51,687.45 L425.95,686.80 L428.40,686.17 L430.85,685.57 L433.31,685.00 L435.77,684.45 L438.23,683.93 L440.70,683.43 L443.17,682.95 L445.65,682.49 L448.13,682.06 L450.61,681.64 L453.09,681.25 L455.58,680.87 L458.07,680.51 L460.56,680.16 L463.06,679.83 L465.56,679.52 L468.06,679.22 L470.56,678.93 L473.06,678.65 L475.57,678.39 L478.08,678.13 L480.58,677.88 L483.09,677.65 L485.60,677.42 L488.12,677.19 L490.63,676.98 L493.14,676.76 L495.66,676.56 L498.17,676.35 L500.69,676.15 L503.20,675.94 L505.72,675.74 L508.24,675.54 L510.75,675.34 L513.27,675.13 L515.78,674.92 L518.29,674.71 L520.81,674.49 L523.32,674.27 L525.83,674.04 L528.34,673.80 L530.85,673.56 L533.36,673.30 L535.86,673.04 L538.36,672.76 L540.87,672.48 L543.37,672.18 L545.87,671.88 L548.36,671.57 L550.86,671.25 L553.36,670.93 L555.86,670.60 L558.35,670.28 L560.85,669.95 L563.35,669.61 L565.85,669.28 L568.35,668.95 L570.85,668.63 L573.35,668.30 L575.85,667.98 L578.36,667.67 L580.87,667.36 L583.38,667.06 L585.89,666.77 L588.40,666.48 L590.92,666.21 L593.44,665.94 L595.96,665.67 L598.48,665.39 L600.99,665.07 L603.49,664.71 L605.98,664.31 L608.46,663.86 L610.93,663.37 L613.39,662.82 L615.84,662.24 L618.27,661.61 L620.70,660.93 L623.10,660.22 L625.50,659.46 L627.88,658.65 L630.24,657.81 L632.59,656.92 L634.93,655.99 L637.25,655.02 L639.55,654.02 L641.83,652.97 L644.10,651.88 L646.35,650.76 L648.58,649.59 L650.79,648.39 L652.98,647.16 L655.15,645.88 L657.31,644.57 L659.44,643.23 L661.55,641.85 L663.63,640.44 L665.70,638.99 L667.74,637.51 L669.76,635.99 L671.76,634.45 L673.73,632.87 L675.68,631.26 L677.60,629.62 L679.50,627.95 L681.37,626.25 L683.22,624.52 L685.03,622.77 L686.83,620.98 L688.59,619.17 L690.32,617.32 L692.03,615.46 L693.71,613.56 L695.35,611.64 L696.97,609.70 L698.56,607.73 L700.11,605.74 L701.64,603.72 L703.13,601.68 L704.59,599.62 L706.02,597.53 L707.41,595.43 L708.77,593.30 L710.10,591.15 L711.39,588.98 L712.64,586.79 L713.86,584.59 L715.05,582.36 L716.20,580.12 L717.31,577.86 L718.38,575.58 L719.41,573.28 L720.41,570.97 L721.37,568.65 L722.29,566.31 L723.16,563.95 L724.00,561.58 L724.80,559.20 C724.80,559.20 724.80,559.20 724.80,559.20 L724.92,561.76 L725.02,564.30 L725.11,566.85 L725.18,569.39 L725.24,571.92 L725.28,574.45 L725.31,576.97 L725.33,579.49 L725.33,582.00 L725.31,584.51 L725.28,587.02 L725.24,589.52 L725.17,592.02 L725.10,594.52 L725.00,597.01 L724.90,599.50 L724.77,601.99 L724.63,604.48 L724.48,606.96 L724.31,609.45 L724.12,611.93 L723.91,614.41 L723.69,616.89 L723.46,619.37 L723.20,621.85 L722.93,624.33 L722.65,626.81 L722.34,629.29 L722.02,631.77 L721.69,634.26 L721.33,636.74 L720.96,639.22 L720.57,641.71 L720.17,644.20 L719.74,646.69 L719.30,649.19 L718.84,651.68 L718.37,654.18 L717.87,656.69 L717.36,659.19 L716.83,661.70 L716.28,664.21 L715.71,666.72 L715.11,669.23 L714.48,671.73 L713.82,674.22 L713.12,676.69 L712.38,679.15 L711.60,681.58 L710.78,683.99 L709.90,686.38 L708.98,688.73 L708.00,691.06 L706.96,693.34 L705.86,695.59 L704.70,697.79 L703.47,699.95 L702.16,702.06 L700.79,704.11 L699.34,706.12 L697.81,708.06 L696.22,709.94 L694.56,711.75 L692.83,713.49 L691.03,715.16 L689.16,716.75 L687.23,718.26 L685.24,719.68 L683.18,721.02 L681.06,722.27 L678.90,723.45 L676.68,724.55 L674.41,725.57 L672.10,726.52 L669.76,727.41 L667.38,728.23 L664.97,728.99 L662.53,729.70 L660.07,730.35 L657.59,730.95 L655.10,731.50 L652.59,732.01 L650.08,732.48 L647.57,732.91 L645.05,733.30 L642.54,733.66 L640.02,733.99 L637.50,734.29 L634.99,734.57 L632.47,734.81 L629.95,735.04 L627.44,735.24 L624.92,735.42 L622.40,735.58 L619.88,735.73 L617.36,735.87 L614.84,735.99 L612.32,736.10 L609.80,736.20 L607.29,736.29 L604.77,736.38 L602.25,736.47 L599.73,736.56 L597.21,736.64 L594.70,736.73 L592.18,736.81 L589.66,736.90 L587.15,736.98 L584.63,737.07 L582.11,737.15 L579.60,737.24 L577.08,737.33 L574.57,737.42 L572.05,737.51 L569.54,737.60 L567.02,737.70 L564.51,737.79 L562.00,737.89 L559.49,738.00 L556.97,738.10 L554.46,738.21 L551.95,738.32 L549.44,738.44 L546.93,738.55 L544.42,738.68 L541.91,738.80 L539.40,738.94 L536.90,739.07 L534.39,739.21 L531.88,739.36 L529.38,739.51 L526.87,739.66 L524.37,739.83 L521.86,740.00 L519.36,740.17 L516.85,740.35 L514.35,740.54 L511.85,740.73 L509.35,740.93 L506.85,741.14 L504.35,741.36 L501.85,741.58 L499.35,741.81 L496.86,742.05 L494.36,742.30 L491.86,742.56 L489.37,742.82 L486.87,743.09 L484.38,743.38 L481.89,743.67 L479.40,743.97 L476.90,744.29 L474.41,744.61 L471.93,744.94 L469.44,745.29 L466.95,745.64 L464.46,746.00 L461.98,746.38 L459.49,746.77 L457.01,747.17 L454.53,747.58 L452.05,748.00 L449.56,748.44 L447.09,748.89 L444.61,749.35 L442.13,749.82 L439.65,750.31 L437.18,750.81 L434.71,751.33 L432.24,751.86 L429.78,752.41 L427.32,752.98 L424.87,753.57 L422.42,754.17 L419.97,754.80 L417.54,755.44 L415.11,756.11 L412.69,756.79 L410.27,757.50 L407.86,758.23 L405.47,758.99 L403.08,759.77 L400.70,760.57 L398.33,761.40 L395.97,762.26 L393.62,763.14 L391.29,764.05 L388.97,764.99 L386.66,765.96 L384.36,766.96 L382.07,767.99 L379.81,769.05 L377.55,770.14 L375.31,771.26 L373.09,772.42 L370.88,773.61 L368.69,774.83 L366.51,776.09 L364.36,777.39 L362.22,778.72 L360.10,780.09 L358.00,781.50" fill="none" stroke="#e8805c" stroke-width="1.10" stroke-linejoin="bevel" opacity="1"/>
<path d="M357.90,779.00 C357.90,779.00 357.90,779.00 357.90,779.00 L357.93,776.63 L357.96,774.21 L357.98,771.74 L358.02,769.24 L358.06,766.71 L358.13,764.15 L358.21,761.58 L358.33,758.99 L358.47,756.39 L358.66,753.79 L358.89,751.19 L359.17,748.60 L359.51,746.02 L359.91,743.46 L360.38,740.93 L360.92,738.43 L361.53,735.96 L362.23,733.53 L363.02,731.16 L363.90,728.83 L364.88,726.57 L365.97,724.37 L367.17,722.24 L368.46,720.17 L369.86,718.17 L371.36,716.24 L372.94,714.38 L374.61,712.58 L376.36,710.84 L378.18,709.17 L380.08,707.55 L382.05,706.00 L384.07,704.52 L386.16,703.09 L388.30,701.72 L390.48,700.40 L392.72,699.15 L394.99,697.95 L397.29,696.81 L399.63,695.73 L401.99,694.70 L404.37,693.72 L406.77,692.79 L409.18,691.92 L411.60,691.10 L414.02,690.32 L416.45,689.60 L418.89,688.91 L421.34,688.27 L423.79,687.67 L426.25,687.11 L428.71,686.57 L431.17,686.07 L433.65,685.61 L436.12,685.16 L438.60,684.75 L441.08,684.35 L443.57,683.98 L446.06,683.62 L448.55,683.28 L451.05,682.95 L453.54,682.63 L456.04,682.32 L458.54,682.02 L461.04,681.72 L463.54,681.42 L466.04,681.12 L468.54,680.82 L471.04,680.52 L473.54,680.22 L476.04,679.93 L478.54,679.63 L481.05,679.34 L483.55,679.04 L486.05,678.75 L488.56,678.46 L491.06,678.17 L493.56,677.89 L496.07,677.61 L498.58,677.33 L501.08,677.05 L503.59,676.77 L506.09,676.50 L508.60,676.23 L511.11,675.97 L513.62,675.71 L516.13,675.45 L518.64,675.20 L521.15,674.95 L523.66,674.70 L526.17,674.46 L528.68,674.23 L531.19,674.00 L533.70,673.77 L536.22,673.55 L538.73,673.34 L541.24,673.13 L543.76,672.92 L546.27,672.72 L548.79,672.52 L551.30,672.33 L553.82,672.13 L556.34,671.94 L558.85,671.76 L561.37,671.57 L563.89,671.38 L566.40,671.19 L568.92,671.01 L571.44,670.82 L573.95,670.63 L576.47,670.44 L578.99,670.25 L581.50,670.05 L584.02,669.85 L586.54,669.65 L589.05,669.44 L591.57,669.23 L594.08,669.01 L596.60,668.77 L599.11,668.52 L601.61,668.24 L604.12,667.92 L606.61,667.57 L609.10,667.19 L611.59,666.77 L614.07,666.31 L616.54,665.82 L619.00,665.30 L621.46,664.74 L623.90,664.14 L626.34,663.51 L628.77,662.85 L631.18,662.15 L633.59,661.41 L635.98,660.64 L638.37,659.83 L640.74,658.99 L643.10,658.11 L645.44,657.20 L647.77,656.25 L650.09,655.27 L652.39,654.25 L654.67,653.19 L656.94,652.10 L659.20,650.98 L661.43,649.81 L663.65,648.62 L665.85,647.38 L668.03,646.11 L670.20,644.81 L672.34,643.47 L674.46,642.09 L676.56,640.68 L678.64,639.23 L680.69,637.75 L682.72,636.24 L684.71,634.69 L686.69,633.10 L688.63,631.48 L690.54,629.83 L692.42,628.14 L694.27,626.43 L696.08,624.67 L697.86,622.89 L699.61,621.07 L701.31,619.22 L702.98,617.34 L704.61,615.43 L706.20,613.48 L707.75,611.50 L709.25,609.50 L710.72,607.46 L712.14,605.39 L713.52,603.29 L714.87,601.17 L716.19,599.03 L717.48,596.87 L718.74,594.69 L719.98,592.49 L721.21,590.29 L722.42,588.07 L723.61,585.84 L724.80,583.60 C724.80,583.60 724.80,583.60 724.80,583.60 L725.00,586.11 L725.16,588.62 L725.30,591.13 L725.42,593.64 L725.50,596.16 L725.56,598.68 L725.59,601.19 L725.60,603.71 L725.59,606.23 L725.56,608.75 L725.50,611.27 L725.42,613.79 L725.32,616.31 L725.20,618.83 L725.07,621.35 L724.91,623.86 L724.74,626.38 L724.55,628.89 L724.35,631.40 L724.13,633.90 L723.90,636.41 L723.65,638.91 L723.39,641.41 L723.10,643.90 L722.80,646.39 L722.47,648.88 L722.12,651.36 L721.75,653.84 L721.34,656.31 L720.91,658.78 L720.46,661.24 L719.96,663.70 L719.44,666.15 L718.88,668.60 L718.29,671.04 L717.66,673.47 L717.00,675.90 L716.29,678.32 L715.54,680.73 L714.75,683.14 L713.91,685.54 L713.03,687.93 L712.09,690.31 L711.11,692.68 L710.07,695.02 L708.97,697.35 L707.81,699.64 L706.59,701.91 L705.29,704.15 L703.93,706.34 L702.49,708.48 L700.97,710.54 L699.37,712.51 L697.68,714.39 L695.90,716.15 L694.02,717.78 L692.05,719.27 L689.97,720.61 L687.79,721.78 L685.53,722.83 L683.21,723.76 L680.83,724.59 L678.42,725.35 L675.98,726.05 L673.54,726.72 L671.10,727.36 L668.65,727.97 L666.20,728.56 L663.75,729.11 L661.29,729.64 L658.83,730.13 L656.37,730.61 L653.91,731.06 L651.44,731.48 L648.97,731.88 L646.50,732.26 L644.02,732.62 L641.55,732.95 L639.07,733.27 L636.59,733.56 L634.10,733.84 L631.62,734.10 L629.13,734.34 L626.64,734.56 L624.14,734.77 L621.65,734.96 L619.15,735.14 L616.66,735.30 L614.16,735.45 L611.65,735.59 L609.15,735.72 L606.64,735.84 L604.14,735.94 L601.63,736.04 L599.12,736.13 L596.61,736.21 L594.09,736.29 L591.58,736.35 L589.06,736.42 L586.55,736.47 L584.03,736.53 L581.51,736.58 L578.99,736.63 L576.46,736.67 L573.94,736.72 L571.42,736.76 L568.89,736.81 L566.37,736.86 L563.84,736.91 L561.31,736.96 L558.78,737.01 L556.26,737.07 L553.73,737.14 L551.20,737.20 L548.67,737.28 L546.14,737.35 L543.60,737.43 L541.07,737.52 L538.54,737.61 L536.01,737.71 L533.48,737.82 L530.95,737.93 L528.42,738.05 L525.89,738.17 L523.36,738.30 L520.84,738.44 L518.31,738.58 L515.78,738.74 L513.26,738.90 L510.73,739.07 L508.21,739.24 L505.69,739.43 L503.17,739.63 L500.65,739.83 L498.13,740.04 L495.62,740.27 L493.10,740.50 L490.59,740.74 L488.08,741.00 L485.57,741.26 L483.06,741.54 L480.56,741.82 L478.06,742.12 L475.56,742.43 L473.06,742.75 L470.57,743.08 L468.08,743.43 L465.59,743.79 L463.10,744.16 L460.62,744.54 L458.14,744.94 L455.66,745.35 L453.19,745.77 L450.72,746.21 L448.25,746.66 L445.79,747.13 L443.33,747.61 L440.87,748.11 L438.42,748.62 L435.97,749.15 L433.53,749.69 L431.09,750.25 L428.65,750.82 L426.22,751.42 L423.79,752.02 L421.37,752.65 L418.95,753.29 L416.54,753.95 L414.13,754.63 L411.73,755.32 L409.33,756.04 L406.94,756.77 L404.55,757.52 L402.16,758.29 L399.78,759.07 L397.41,759.88 L395.05,760.71 L392.68,761.56 L390.33,762.42 L387.98,763.31 L385.63,764.22 L383.30,765.15 L380.96,766.10 L378.64,767.07 L376.32,768.06 L374.01,769.07 L371.70,770.11 L369.40,771.17 L367.11,772.25 L364.82,773.35 L362.54,774.48 L360.27,775.63 L358.00,776.80" fill="none" stroke="#5cb88a" stroke-width="1.10" stroke-linejoin="bevel" opacity="1"/>
<rect x="321.25" y="472.20" width="374.75" height="68.20" fill="#fff" stroke="#444" stroke-width="1.40"/>
<path d="M338.00,485.50H374.50" stroke="#77777a" stroke-width="1.3"/>
<text x="379.50" y="490.70" font-size="16.00" textLength="298.00" lengthAdjust="spacingAndGlyphs">Pristanic acid + PBS + ACOX3 + AMACR</text>
<path d="M338.00,505.50H374.50" stroke="#f2a78e" stroke-width="1.3"/>
<text x="379.50" y="510.70" font-size="16.00" textLength="221.00" lengthAdjust="spacingAndGlyphs">Pristanic acid + PBS + ACOX3</text>
<path d="M338.00,525.50H374.50" stroke="#9fd3ba" stroke-width="1.3"/>
<text x="379.50" y="530.70" font-size="16.00" textLength="147.00" lengthAdjust="spacingAndGlyphs">Pristanic acid + PBS</text>
<text x="541.25" y="870.2" font-size="21.4" text-anchor="middle" textLength="359" lengthAdjust="spacingAndGlyphs">Potential versus Ag/AgCl reference (V)</text>
<text transform="translate(262.4,616) rotate(-90)" font-size="21.4" text-anchor="middle" textLength="209" lengthAdjust="spacingAndGlyphs">Oxidation Current (μA)</text>
<text x="512" y="916.5" font-size="28" text-anchor="middle" class="sf">(<tspan font-weight="bold">c</tspan>)</text>
</svg>
</body></html>
